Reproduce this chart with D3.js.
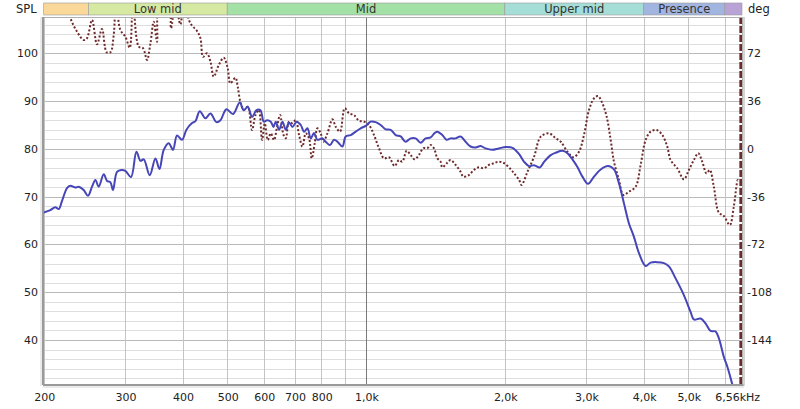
<!DOCTYPE html>
<html><head><meta charset="utf-8">
<script src="https://cdn.jsdelivr.net/npm/d3@7/dist/d3.min.js"></script>
<style>body{margin:0;background:#fff}svg{display:block;font-family:"DejaVu Sans",Verdana,sans-serif}</style>
</head><body><svg id="c" width="800" height="409"></svg>
<script>
// ---- data ----
const splFreq = [200,206.8,212,215.6,219,224.7,228.5,234.3,238.2,244.2,249.5,254.6,258.9,263.2,269.9,274.4,279.1,282.7,288.4,294.8,300.8,309.3,317.8,324.2,329.6,339.6,349.4,356.5,364.2,373.4,381.5,389.2,399,407.9,419.5,426.7,436,448.5,459.9,473.9,483.4,498.1,514.8,532.3,543.1,554.1,566.1,578.7,590.4,600.2,610.2,621.5,630,637.3,647.9,659,669.9,681,692.6,707.6,721.9,733.9,746.4,758.8,771.4,784.6,804.4,817.8,835.6,852.3,866.9,888.8,903.6,926.4,949.8,973.8,998.4,1023.6,1049.4,1075.9,1103.1,1131,1159.5,1188.8,1218.8,1249.6,1281.2,1313.5,1346.7,1380.7,1408.4,1427.6,1463.6,1495.4,1525.5,1564.1,1603.6,1644.1,1685.6,1728.1,1771.8,1816.5,1878.3,1941.1,2010,2078.3,2147.9,2202.2,2257.7,2314.6,2381.3,2433,2515.6,2579.2,2666.7,2734,2803,2873.8,2946.4,3030,3122,3228,3347.8,3449.3,3536.3,3625.8,3717.3,3811,3907.4,4040,4142,4282.7,4426,4537.9,4692,4890.3,5056.4,5140.3,5314.8,5449,5586.6,5727.6,5822.7,5969.7,6090.2,6224.9,6320];
const splDb = [66.7,67.2,67.8,67.4,69.0,71.8,72.3,71.9,72.1,71.4,70.2,72.1,73.5,72.1,74.7,73.3,73.0,71.4,75.2,75.6,75.4,74.1,79.4,77.5,77.8,74.5,78.0,75.8,79.8,81.2,79.8,82.8,81.9,84.0,85.4,85.8,87.9,86.4,87.4,85.6,86.0,88.3,87.3,89.7,88.1,88.8,86.7,88.1,88.1,85.7,86.0,85.7,84.6,85.7,84.0,85.7,84.0,85.5,84.6,85.7,85.0,83.6,84.3,82.2,83.3,81.9,82.2,81.5,80.8,81.9,81.5,80.5,82.6,82.9,83.6,84.3,84.8,85.7,85.6,85.0,84.1,84.0,82.9,82.6,81.5,82.2,82.2,81.3,82.2,82.4,83.3,83.6,82.9,81.9,82.2,82.2,82.6,81.5,80.5,80.3,80.6,80.1,79.8,80.1,80.4,80.2,78.9,77.3,76.4,76.6,76.1,77.3,78.7,79.2,79.6,79.1,77.8,76.2,74.2,72.7,74.2,75.7,76.4,75.7,72.8,68.6,64.4,61.6,58.2,55.5,56.2,56.3,56.1,55.4,52.9,49.4,45.9,44.3,44.5,43.5,41.9,41.8,40.4,36.5,34.1,30.8,28.5];

const phaseFreq = [222,228.5,236.2,244.2,248.2,254.6,261,267.6,273.9,279.1,283.7,287,293.3,300.8,307.3,312.4,321.5,328.5,335,340.8,346.4,352.2,357,373.4,377.7,386,395.8,402.4,416,430,437.5,443.2,452,459.9,467.5,479.4,491.4,501.3,508,521,527,534.2,543.1,554.1,566.1,575.8,585.4,595.1,603.2,612.3,621.5,631.8,640.5,651.1,662.3,669.9,681,692.6,704.1,715.8,728,740.1,752.4,762.6,774.1,784.6,797.6,808.4,824.8,845.6,859.6,878.2,899.1,918.5,941.7,965.5,989.9,1014.9,1040.5,1066.8,1093.7,1121.4,1153.7,1178.7,1198.9,1224.9,1249.6,1274.8,1302.3,1331.2,1358.2,1380.7,1403.6,1427.6,1451.3,1463.5,1500.6,1525.5,1564.1,1603.6,1625.2,1671.3,1713.4,1756.7,1801.1,1846.6,1893.2,1941.1,1993,2060.8,2095,2147.9,2173.8,2239.7,2314.6,2393.2,2494.3,2579.2,2644.2,2734,2817.2,2896.9,2970.1,3045.1,3122,3184.9,3255.4,3326,3393,3449.3,3536.3,3615.1,3717.3,3843.6,3940.6,4040,4142,4267.8,4390.8,4501.7,4576.4,4731.9,4890.3,5013.7,5140.3,5254.5,5360,5476.2,5567.1,5679.3,5822.7,5969.7,6150.8,6274.9,6401.6,6432.9];
const phaseDeg = [112,98.4,88.3,82.0,83.3,97.1,78.8,90.3,72.8,72.8,85.8,110,89.5,84.5,76.2,110,77.0,75.8,67.0,79.5,95.8,80.7,110,110,90.8,110,93.8,110,94.6,88.8,83.3,69.4,72.0,65.7,54.4,63.2,68.7,60.7,49.4,53.6,46.8,35.1,29.3,31.8,14.2,25.5,29.3,6.7,19.3,6.7,11.7,6.7,15.5,25.5,10.5,8.0,20.5,19.3,21.8,10.5,1.7,11.7,8.0,-7.1,4.2,15.5,11.7,5.4,11.7,22.3,16.7,13.0,30.6,26.8,25.5,21.2,20.5,18.0,10.5,0.5,-7.1,-6.3,-12.9,-8.4,-9.6,-1.4,-4.6,-7.8,-4.6,0.5,0.5,2.9,0.5,-7.1,-9.6,-13.9,-10.4,-8.4,-12.1,-17.2,-20.9,-19.7,-15.9,-13.9,-14.6,-12.1,-10.8,-9.6,-10.8,-15.4,-18.4,-23.4,-27.2,-17.2,-5.9,9.2,11.7,8.0,5.4,-2.1,-6.3,-2.1,10.5,29.3,38.1,39.8,34.3,24.3,6.7,-9.6,-23.4,-34.7,-32.2,-28.5,-12.1,6.7,13.0,14.2,10.5,1.7,-8.4,-14.6,-22.9,-15.9,-8.4,-3.3,-9.6,-18.4,-15.9,-28.5,-48.0,-50.5,-57.3,-43.5,-23.4,-24.7];
const phaseWrapFreq = 6500;

const freqMin = 200, freqMax = 6560;
const splMin = 30.8, splMax = 107.6;
const splTicks = [40,50,60,70,80,90,100];
const degTicks = [72,36,0,-36,-72,-108,-144];
const xGrid = [200,300,400,500,600,700,800,900,1000,2000,3000,4000,5000,6000];
const xTickFreq = [200,300,400,500,600,700,800,1000,2000,3000,4000,5000,6560];
const xTickLabels = ["200","300","400","500","600","700","800","1,0k","2,0k","3,0k","4,0k","5,0k","6,56kHz"];
const bandEdges = [200,250,500,2000,4000,6000,6560];
const bandNames = ["","Low mid","Mid","Upper mid","Presence",""];
const bandColors = ["#f9d89a","#d5e9a2","#a4e1a7","#a5ded6","#a2b5e0","#b9a2d6"];

// ---- layout ----
const L=43, R=742, T=17, B=384;
const svg = d3.select("#c");
const x = d3.scaleLog().domain([freqMin,freqMax]).range([43.7,742.7]);
const y = d3.scaleLinear().domain([splMin,splMax]).range([B,T]);
const yDeg = d3.scaleLinear().domain([(splMin-80)*3.6,(splMax-80)*3.6]).range([B,T]);

svg.append("defs").append("clipPath").attr("id","clip")
  .append("rect").attr("x",L).attr("y",T).attr("width",R-L).attr("height",B-T);

// header bands
const hb = svg.append("g");
bandNames.forEach((n,i)=>{
  const x0=Math.max(L,x(bandEdges[i])), x1=Math.min(R,x(bandEdges[i+1]));
  hb.append("rect").attr("x",x0).attr("y",3).attr("width",x1-x0).attr("height",12)
    .attr("fill",bandColors[i]).attr("stroke","#9a9a9a").attr("stroke-width",0.6);
  if(n) hb.append("text").attr("x",(x0+x1)/2).attr("y",13).attr("text-anchor","middle")
    .attr("font-size",11.5).attr("fill","#333").text(n);
});
svg.append("text").attr("x",16).attr("y",13).attr("font-size",11.5).attr("fill","#222").text("SPL");
svg.append("text").attr("x",748).attr("y",13).attr("font-size",11.5).attr("fill","#222").text("deg");

// grid
const g = svg.append("g");
g.append("rect").attr("x",L).attr("y",T).attr("width",R-L).attr("height",B-T).attr("fill","#fff");
d3.range(32,108,2).forEach(v=>{
  g.append("line").attr("x1",L).attr("x2",R).attr("y1",Math.round(y(v))+0.5).attr("y2",Math.round(y(v))+0.5)
   .attr("stroke", v%10===0 ? "#b9b9b9" : "#dedede").attr("stroke-width",1);
});
xGrid.forEach(f=>{
  g.append("line").attr("y1",T).attr("y2",B).attr("x1",Math.round(x(f))+0.5).attr("x2",Math.round(x(f))+0.5)
   .attr("stroke", f===1000 ? "#7a7a7a" : "#c4c4c4").attr("stroke-width",1);
});

// curves
const plot = svg.append("g").attr("clip-path","url(#clip)");
const splLine = d3.line().x((d,i)=>x(splFreq[i])).y(d=>y(d)).curve(d3.curveCatmullRom.alpha(0.5));
const phLine = d3.line().x((d,i)=>x(phaseFreq[i])).y(d=>yDeg(d)).curve(d3.curveCatmullRom.alpha(0.5));
plot.append("path").attr("d",phLine(phaseDeg)).attr("fill","none").attr("stroke","#6e2a2a")
  .attr("stroke-width",2).attr("stroke-dasharray","2,2");
plot.append("path").attr("d",splLine(splDb)).attr("fill","none").attr("stroke","#4646b8")
  .attr("stroke-width",2).attr("stroke-linejoin","round");
plot.append("line").attr("x1",x(phaseWrapFreq)).attr("x2",x(phaseWrapFreq)).attr("y1",T).attr("y2",B)
  .attr("stroke","#6e2a2a").attr("stroke-width",3).attr("stroke-dasharray","7,2");

// frame
svg.append("rect").attr("x",L+0.5).attr("y",T+0.5).attr("width",R-L).attr("height",B-T)
  .attr("fill","none").attr("stroke","#b0b0b0");
svg.append("line").attr("x1",L).attr("x2",L).attr("y1",T).attr("y2",B+1).attr("stroke","#9a9a9a").attr("stroke-width",2);
svg.append("line").attr("x1",L-2).attr("x2",L-2).attr("y1",T).attr("y2",B+2).attr("stroke","#d6d6d6").attr("stroke-width",1);
svg.append("line").attr("x1",L).attr("x2",R+2).attr("y1",B+1).attr("y2",B+1).attr("stroke","#9a9a9a").attr("stroke-width",2);
svg.append("line").attr("x1",L).attr("x2",R+2).attr("y1",B+3).attr("y2",B+3).attr("stroke","#d6d6d6").attr("stroke-width",1);
svg.append("line").attr("x1",R+2).attr("x2",R+2).attr("y1",T).attr("y2",B+2).attr("stroke","#c8c8c8").attr("stroke-width",1.5);

// axes labels
const axl = svg.append("g").attr("font-size",11).attr("fill","#222");
splTicks.forEach(v=>axl.append("text").attr("x",38).attr("y",y(v)+4).attr("text-anchor","end").text(v));
degTicks.forEach(v=>axl.append("text").attr("x",747).attr("y",yDeg(v)+4).text(v));
xTickFreq.forEach((f,i)=>{
  const t=axl.append("text").attr("y",401).attr("text-anchor","middle").text(xTickLabels[i]);
  t.attr("x", i===xTickFreq.length-1 ? x(f)-5 : x(f)+1);
});
</script></body></html>
